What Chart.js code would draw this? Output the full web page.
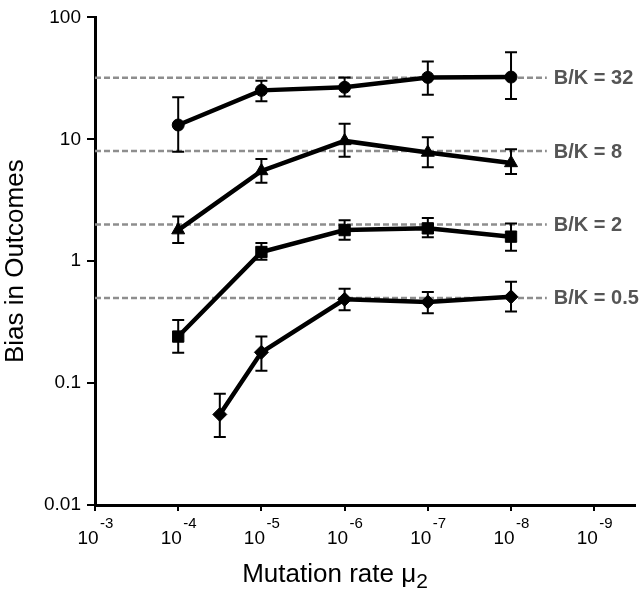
<!DOCTYPE html>
<html>
<head>
<meta charset="utf-8">
<script src="https://cdn.jsdelivr.net/npm/chart.js@4"></script>
<style>
  html, body { margin: 0; padding: 0; background: #fff; }
  #wrap { width: 644px; height: 592px; }
</style>
</head>
<body>
<div id="wrap"><canvas id="biasChart"></canvas></div>
<script>
// x values are the (positive) exponent n of the mutation rate 10^-n
const rateExp = [4, 5, 6, 7, 8];
const rateExpDiamond = [4.5, 5, 6, 7, 8];
const xTicks = [3, 4, 5, 6, 7, 8, 9];
const yTicks = [0.01, 0.1, 1, 10, 100];
const yTickLabels = ['0.01', '0.1', '1', '10', '100'];

// B/K = 32 (circles)
const bias32 = [13.1, 25.2, 26.7, 32.2, 32.4];
const bias32Low = [7.9, 20.5, 22.4, 23.2, 21.4];
const bias32High = [22.1, 30.2, 32.2, 43.5, 51.8];

// B/K = 8 (triangles)
const bias8 = [1.8, 5.5, 9.7, 7.8, 6.4];
const bias8Low = [1.41, 4.4, 7.2, 5.9, 5.2];
const bias8High = [2.33, 6.9, 13.4, 10.4, 8.3];

// B/K = 2 (squares)
const bias2 = [0.241, 1.19, 1.8, 1.86, 1.59];
const bias2Low = [0.177, 1.03, 1.5, 1.57, 1.22];
const bias2High = [0.33, 1.41, 2.17, 2.26, 2.04];

// B/K = 0.5 (diamonds)
const bias05 = [0.0553, 0.179, 0.487, 0.463, 0.51];
const bias05Low = [0.0361, 0.126, 0.396, 0.374, 0.386];
const bias05High = [0.0817, 0.241, 0.594, 0.56, 0.678];

// reference levels
const refLevels = [32, 8, 2, 0.5];
const refLabels = ['B/K = 32', 'B/K = 8', 'B/K = 2', 'B/K = 0.5'];
const refStart = 3;
const refEnd = 8.43;

const FONT = "'Liberation Sans', Arial, Helvetica, sans-serif";

function toPoints(xs, ys) {
  return xs.map((x, i) => ({ x: x, y: ys[i] }));
}

function seriesDataset(xs, ys, lo, hi, style, radius) {
  return {
    data: toPoints(xs, ys),
    errLow: lo,
    errHigh: hi,
    borderColor: '#000',
    backgroundColor: '#000',
    borderWidth: 4.5,
    pointStyle: style,
    pointRadius: radius,
    pointBorderWidth: 1,
    pointBackgroundColor: '#000',
    pointBorderColor: '#000',
    order: 1
  };
}

const datasets = [
  seriesDataset(rateExp, bias32, bias32Low, bias32High, 'circle', 6),
  seriesDataset(rateExp, bias8, bias8Low, bias8High, 'triangle', 7.5),
  seriesDataset(rateExp, bias2, bias2Low, bias2High, 'rect', 8),
  seriesDataset(rateExpDiamond, bias05, bias05Low, bias05High, 'rectRot', 7)
];

refLevels.forEach((level, i) => {
  datasets.push({
    data: [{ x: refStart, y: level }, { x: refEnd, y: level }],
    refLabel: refLabels[i],
    borderColor: '#8e8e8e',
    borderWidth: 2.5,
    borderDash: [6, 3],
    pointRadius: 0,
    order: 2
  });
});

/**
 * Error bars with caps, drawn through the y scale
 */
const errorBarPlugin = {
  id: 'errorBars',
  afterDatasetsDraw(chart) {
    const { ctx, scales: { x, y } } = chart;
    ctx.save();
    ctx.strokeStyle = '#000';
    ctx.lineWidth = 2;
    chart.data.datasets.forEach(ds => {
      if (!ds.errLow) return;
      ds.data.forEach((p, i) => {
        const px = x.getPixelForValue(p.x);
        const yLo = y.getPixelForValue(ds.errLow[i]);
        const yHi = y.getPixelForValue(ds.errHigh[i]);
        ctx.beginPath();
        ctx.moveTo(px, yLo);
        ctx.lineTo(px, yHi);
        ctx.moveTo(px - 6, yLo);
        ctx.lineTo(px + 6, yLo);
        ctx.moveTo(px - 6, yHi);
        ctx.lineTo(px + 6, yHi);
        ctx.stroke();
      });
    });
    ctx.restore();
  }
};

/**
 * Reference labels, power-of-ten tick labels and x axis title
 */
const labelPlugin = {
  id: 'labels',
  afterDraw(chart) {
    const { ctx, scales: { x, y } } = chart;
    ctx.save();

    // B/K labels at the end of the dashed lines
    ctx.fillStyle = '#555555';
    ctx.font = 'bold 20px ' + FONT;
    ctx.textAlign = 'left';
    ctx.textBaseline = 'middle';
    chart.data.datasets.forEach(ds => {
      if (!ds.refLabel) return;
      const last = ds.data[ds.data.length - 1];
      ctx.fillText(ds.refLabel, x.getPixelForValue(last.x) + 7, y.getPixelForValue(last.y) + 1);
    });

    // x tick labels as 10 with superscript exponent
    ctx.fillStyle = '#000';
    ctx.textBaseline = 'alphabetic';
    xTicks.forEach(n => {
      const px = x.getPixelForValue(n);
      ctx.font = '19px ' + FONT;
      ctx.textAlign = 'center';
      ctx.fillText('10', px - 7, 544);
      ctx.font = '15px ' + FONT;
      ctx.textAlign = 'left';
      ctx.fillText('-' + n, px + 5, 528);
    });

    // x axis title with subscript
    ctx.font = '26px ' + FONT;
    ctx.textAlign = 'left';
    const main = 'Mutation rate \u03bc';
    const w = ctx.measureText(main).width;
    ctx.font = '21px ' + FONT;
    const subW = ctx.measureText('2').width;
    const startX = 335 - (w + subW) / 2;
    ctx.font = '26px ' + FONT;
    ctx.fillText(main, startX, 582);
    ctx.font = '21px ' + FONT;
    ctx.fillText('2', startX + w, 588);

    ctx.restore();
  }
};

new Chart(document.getElementById('biasChart'), {
  type: 'line',
  data: { datasets: datasets },
  options: {
    responsive: true,
    maintainAspectRatio: false,
    animation: false,
    layout: { padding: { top: 15, right: 8, left: 0, bottom: 0 } },
    plugins: {
      legend: { display: false },
      tooltip: { enabled: false }
    },
    scales: {
      x: {
        type: 'linear',
        min: 3,
        max: 9.49,
        afterBuildTicks: scale => { scale.ticks = xTicks.map(v => ({ value: v })); },
        afterFit: scale => { scale.height = 87; },
        ticks: { display: false },
        grid: {
          drawOnChartArea: false,
          drawTicks: true,
          tickLength: 6,
          color: '#000',
          lineWidth: 2
        },
        border: { display: true, color: '#000', width: 3 }
      },
      y: {
        type: 'logarithmic',
        min: 0.01,
        max: 100,
        afterBuildTicks: scale => { scale.ticks = yTicks.map(v => ({ value: v })); },
        afterFit: scale => { scale.width = 95; },
        ticks: {
          padding: 6,
          color: '#000',
          font: { family: FONT, size: 19 },
          callback: (value) => {
            const idx = yTicks.indexOf(value);
            return idx >= 0 ? yTickLabels[idx] : '';
          }
        },
        grid: {
          drawOnChartArea: false,
          drawTicks: true,
          tickLength: 8,
          color: '#000',
          lineWidth: 2
        },
        border: { display: true, color: '#000', width: 3 },
        title: {
          display: true,
          text: 'Bias in Outcomes',
          color: '#000',
          font: { family: FONT, size: 26 },
          padding: 0
        }
      }
    }
  },
  plugins: [errorBarPlugin, labelPlugin]
});
</script>
</body>
</html>
